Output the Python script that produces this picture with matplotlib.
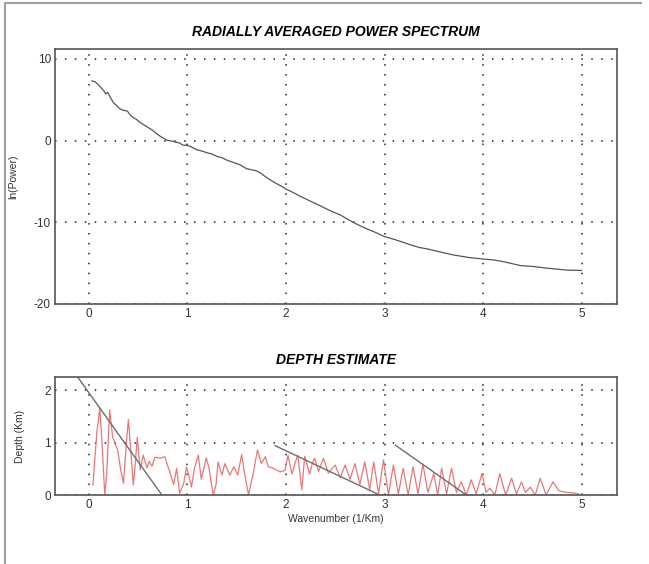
import matplotlib
matplotlib.use("Agg")
import matplotlib.pyplot as plt
from matplotlib.lines import Line2D

plt.rcParams['font.family'] = ['Liberation Sans', 'DejaVu Sans']
plt.rcParams['axes.unicode_minus'] = False

# radially averaged power spectrum
wavenumber = [0.03, 0.06, 0.09, 0.12, 0.15, 0.17, 0.19, 0.22, 0.25, 0.28, 0.31, 0.35,
              0.39, 0.42, 0.45, 0.48, 0.52, 0.56, 0.60, 0.64, 0.68, 0.72, 0.76, 0.80,
              0.84, 0.88, 0.92, 0.95, 1.00, 1.05, 1.10, 1.15, 1.20, 1.25, 1.30, 1.35,
              1.40, 1.47, 1.53, 1.60, 1.66, 1.70, 1.75, 1.80, 1.87, 1.94, 2.01, 2.08,
              2.14, 2.21, 2.28, 2.35, 2.45, 2.55, 2.68, 2.80, 2.90, 3.00, 3.10, 3.20,
              3.30, 3.36, 3.45, 3.55, 3.70, 3.85, 4.00, 4.10, 4.20, 4.38, 4.50, 4.60,
              4.72, 4.85, 5.00]
ln_power = [7.3, 7.2, 6.9, 6.5, 6.1, 5.7, 5.9, 5.2, 4.6, 4.3, 3.9, 3.7,
            3.6, 3.1, 2.8, 2.6, 2.2, 1.9, 1.6, 1.3, 0.9, 0.55, 0.25, 0.0,
            -0.05, -0.2, -0.3, -0.55, -0.6, -0.85, -1.15, -1.3, -1.5, -1.65, -1.95, -2.1,
            -2.4, -2.7, -2.95, -3.45, -3.6, -3.7, -4.05, -4.5, -5.05, -5.5, -6.0, -6.4,
            -6.8, -7.2, -7.6, -8.0, -8.6, -9.1, -10.0, -10.7, -11.2, -11.75, -12.1, -12.5,
            -12.9, -13.1, -13.3, -13.6, -14.0, -14.3, -14.5, -14.6, -14.8, -15.3, -15.4, -15.55,
            -15.7, -15.85, -15.9]

# depth estimate curve
depth_k = [0.04, 0.08, 0.11, 0.135, 0.16, 0.18, 0.21, 0.24, 0.27, 0.29, 0.32, 0.35,
           0.38, 0.40, 0.43, 0.45, 0.47, 0.49, 0.52, 0.55, 0.59, 0.61, 0.64, 0.67,
           0.72, 0.77, 0.80, 0.82, 0.86, 0.89, 0.92, 0.96, 0.99, 1.01, 1.04, 1.07,
           1.11, 1.14, 1.19, 1.22, 1.26, 1.29, 1.31, 1.35, 1.38, 1.43, 1.47, 1.51,
           1.55, 1.58, 1.62, 1.67, 1.71, 1.75, 1.79, 1.82, 1.87, 1.94, 1.99, 2.02,
           2.06, 2.09, 2.12, 2.16, 2.19, 2.24, 2.27, 2.29, 2.33, 2.38, 2.43, 2.50,
           2.55, 2.60, 2.65, 2.70, 2.75, 2.80, 2.85, 2.89, 2.94, 2.99, 3.04, 3.09,
           3.14, 3.19, 3.24, 3.29, 3.34, 3.39, 3.44, 3.50, 3.54, 3.58, 3.63, 3.68,
           3.73, 3.78, 3.83, 3.88, 3.93, 3.99, 4.03, 4.07, 4.12, 4.17, 4.23, 4.29,
           4.34, 4.39, 4.43, 4.48, 4.53, 4.58, 4.64, 4.71, 4.77, 4.85, 4.92, 4.97]
depth_km = [0.19, 1.2, 1.65, 0.9, 0.0, 0.41, 1.62, 1.11, 0.95, 0.87, 0.5, 0.22,
            1.0, 1.44, 0.7, 0.19, 0.6, 1.10, 0.48, 0.76, 0.52, 0.64, 0.55, 0.72,
            0.70, 0.73, 0.55, 0.44, 0.2, 0.51, 0.03, 0.21, 0.53, 0.40, 0.15, 0.50,
            0.76, 0.30, 0.71, 0.50, 0.0, 0.20, 0.63, 0.38, 0.60, 0.38, 0.54, 0.38,
            0.77, 0.40, 0.0, 0.44, 0.86, 0.60, 0.73, 0.54, 0.51, 0.44, 0.47, 0.76,
            0.40, 0.60, 0.76, 0.10, 0.74, 0.40, 0.62, 0.70, 0.45, 0.70, 0.42, 0.57,
            0.33, 0.57, 0.30, 0.60, 0.20, 0.63, 0.10, 0.63, 0.03, 0.67, 0.0, 0.57,
            0.02, 0.51, 0.0, 0.54, 0.02, 0.59, 0.05, 0.41, 0.0, 0.51, 0.02, 0.51,
            0.05, 0.25, 0.0, 0.29, 0.02, 0.41, 0.05, 0.13, 0.0, 0.41, 0.0, 0.32,
            0.02, 0.25, 0.05, 0.15, 0.0, 0.32, 0.0, 0.25, 0.08, 0.05, 0.04, 0.02]

# straight-line depth fits (end points)
fit_lines = [([-0.115, 0.74], [2.25, 0.0]),
             ([1.89, 2.95], [0.94, 0.0]),
             ([3.11, 3.83], [0.95, 0.0])]

x_ticks = [0, 1, 2, 3, 4, 5]
power_ticks = [-20, -10, 0, 10]
depth_ticks = [0, 1, 2]

fig = plt.figure(figsize=(6.49, 5.64), dpi=100)

# partial outer frame (top and left)
fig.add_artist(Line2D([5 / 649, 641 / 649], [1 - 3 / 564, 1 - 3 / 564],
                      transform=fig.transFigure, color='#a0a0a0', lw=1.5))
fig.add_artist(Line2D([5 / 649, 5 / 649], [1 - 3 / 564, 0],
                      transform=fig.transFigure, color='#a0a0a0', lw=1.5))

ax1 = fig.add_axes([55 / 649, 1 - 304 / 564, 562 / 649, 255 / 564])
ax2 = fig.add_axes([55 / 649, 1 - 495 / 564, 562 / 649, 118 / 564])


def style(ax):
    ax.set_xlim(-0.345, 5.36)
    ax.set_xticks(x_ticks)
    ax.grid(True, color='#222222', linestyle=(0, (1, 5.5)), linewidth=1.1)
    ax.tick_params(length=0, labelsize=8.5, pad=3, colors='#333333')
    for s in ax.spines.values():
        s.set_color('#555555')
        s.set_linewidth(1.2)
    ax.set_axisbelow(True)


style(ax1)
ax1.plot(wavenumber, ln_power, color='#555555', lw=0.9)
ax1.set_ylim(-20, 11.2)
ax1.set_yticks(power_ticks)
ax1.set_ylabel('ln(Power)', fontsize=7.5, color='#333333')
ax1.yaxis.set_label_coords(-0.066, 0.5)
ax1.set_title('RADIALLY AVERAGED POWER SPECTRUM', fontsize=10, fontweight='bold',
              fontstyle='italic', pad=9)

style(ax2)
ax2.plot(depth_k, depth_km, color='#e87878', lw=0.9)
for xs, ys in fit_lines:
    ax2.plot(xs, ys, color='#6e6e6e', lw=1.0)
ax2.set_ylim(0, 2.25)
ax2.set_yticks(depth_ticks)
ax2.set_ylabel('Depth (Km)', fontsize=7.5, color='#333333')
ax2.yaxis.set_label_coords(-0.053, 0.5)
ax2.set_xlabel('Wavenumber (1/Km)', fontsize=7.5, color='#333333', labelpad=2)
ax2.set_title('DEPTH ESTIMATE', fontsize=10, fontweight='bold',
              fontstyle='italic', pad=9)

fig.savefig('out.png', dpi=100)
